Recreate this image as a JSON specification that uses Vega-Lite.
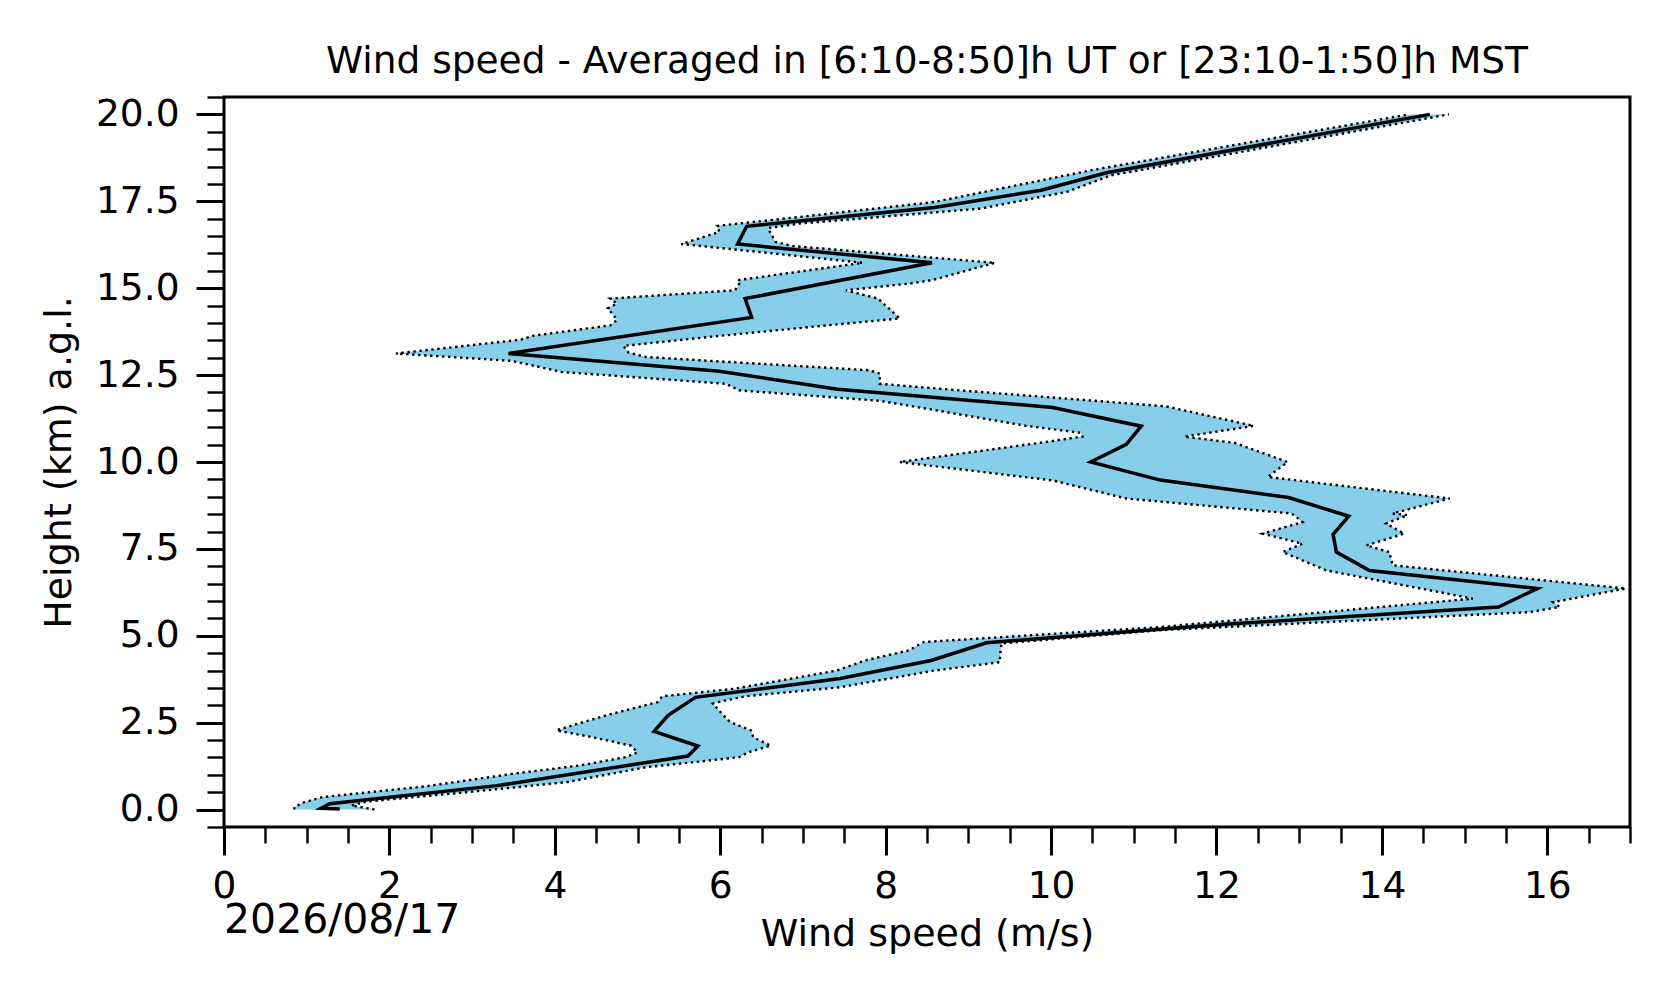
{
  "$schema": "https://vega.github.io/schema/vega-lite/v6.json",
  "width": 1406,
  "height": 730,
  "autosize": {"type": "none"},
  "padding": {"left": 224, "top": 97, "right": 46, "bottom": 176},
  "background": "white",
  "config": {
    "font": "DejaVu Sans",
    "view": {"stroke": "black", "strokeWidth": 3},
    "axis": {
      "domain": false,
      "grid": false,
      "tickColor": "black",
      "labelColor": "black",
      "titleColor": "black",
      "labelFont": "DejaVu Sans",
      "titleFont": "DejaVu Sans",
      "labelFontSize": 37.5,
      "titleFontSize": 38,
      "titleFontWeight": "normal",
      "labelFlush": false,
      "labelOverlap": false,
      "labelBound": false
    }
  },
  "title": {
    "text": "Wind speed - Averaged in [6:10-8:50]h UT or [23:10-1:50]h MST",
    "fontSize": 37.5,
    "fontWeight": "normal",
    "font": "DejaVu Sans",
    "color": "black",
    "anchor": "middle",
    "frame": "group",
    "baseline": "alphabetic",
    "offset": -32
  },
  "datasets": {
    "band": [
      {"h": 0.00, "lo": 0.85, "hi": 1.82},
      {"h": 0.07, "lo": 0.85, "hi": 1.66},
      {"h": 0.12, "lo": 0.89, "hi": 1.54},
      {"h": 0.20, "lo": 0.95, "hi": 1.67},
      {"h": 0.23, "lo": 1.00, "hi": 1.72},
      {"h": 0.36, "lo": 1.19, "hi": 2.30},
      {"h": 0.50, "lo": 1.75, "hi": 2.93},
      {"h": 0.67, "lo": 2.44, "hi": 3.64},
      {"h": 0.79, "lo": 2.79, "hi": 4.14},
      {"h": 1.03, "lo": 3.49, "hi": 4.68},
      {"h": 1.22, "lo": 4.13, "hi": 5.10},
      {"h": 1.27, "lo": 4.30, "hi": 5.30},
      {"h": 1.36, "lo": 4.51, "hi": 5.67},
      {"h": 1.51, "lo": 4.86, "hi": 6.23},
      {"h": 1.65, "lo": 5.00, "hi": 6.34},
      {"h": 1.84, "lo": 4.92, "hi": 6.61},
      {"h": 2.08, "lo": 4.46, "hi": 6.40},
      {"h": 2.28, "lo": 4.02, "hi": 6.37},
      {"h": 2.52, "lo": 4.35, "hi": 6.12},
      {"h": 2.71, "lo": 4.62, "hi": 6.04},
      {"h": 3.05, "lo": 5.17, "hi": 5.91},
      {"h": 3.09, "lo": 5.24, "hi": 5.97},
      {"h": 3.26, "lo": 5.30, "hi": 6.30},
      {"h": 3.48, "lo": 6.18, "hi": 7.27},
      {"h": 3.52, "lo": 6.27, "hi": 7.45},
      {"h": 4.00, "lo": 7.41, "hi": 8.59},
      {"h": 4.24, "lo": 7.69, "hi": 9.38},
      {"h": 4.29, "lo": 7.75, "hi": 9.38},
      {"h": 4.58, "lo": 8.28, "hi": 9.39},
      {"h": 4.78, "lo": 8.43, "hi": 9.40},
      {"h": 4.82, "lo": 8.46, "hi": 9.60},
      {"h": 5.16, "lo": 10.71, "hi": 11.31},
      {"h": 5.25, "lo": 11.31, "hi": 12.08},
      {"h": 5.68, "lo": 13.30, "hi": 15.78},
      {"h": 5.83, "lo": 13.99, "hi": 16.15},
      {"h": 5.97, "lo": 14.64, "hi": 16.07},
      {"h": 6.07, "lo": 15.10, "hi": 16.30},
      {"h": 6.36, "lo": 14.47, "hi": 16.95},
      {"h": 6.88, "lo": 13.33, "hi": 14.76},
      {"h": 7.03, "lo": 13.18, "hi": 14.13},
      {"h": 7.41, "lo": 12.80, "hi": 14.09},
      {"h": 7.60, "lo": 12.99, "hi": 13.81},
      {"h": 7.65, "lo": 13.04, "hi": 13.88},
      {"h": 7.94, "lo": 12.56, "hi": 14.27},
      {"h": 8.23, "lo": 12.98, "hi": 14.05},
      {"h": 8.27, "lo": 13.04, "hi": 14.09},
      {"h": 8.47, "lo": 12.94, "hi": 14.31},
      {"h": 8.52, "lo": 12.90, "hi": 14.13},
      {"h": 8.95, "lo": 10.91, "hi": 14.82},
      {"h": 9.47, "lo": 10.02, "hi": 12.97},
      {"h": 9.57, "lo": 9.67, "hi": 12.62},
      {"h": 10.00, "lo": 8.17, "hi": 12.86},
      {"h": 10.55, "lo": 9.86, "hi": 12.22},
      {"h": 10.73, "lo": 10.38, "hi": 11.61},
      {"h": 10.84, "lo": 10.36, "hi": 11.91},
      {"h": 11.04, "lo": 9.70, "hi": 12.45},
      {"h": 11.60, "lo": 8.33, "hi": 11.39},
      {"h": 11.76, "lo": 7.93, "hi": 10.53},
      {"h": 12.06, "lo": 6.23, "hi": 8.90},
      {"h": 12.25, "lo": 6.07, "hi": 7.93},
      {"h": 12.54, "lo": 4.38, "hi": 7.93},
      {"h": 12.59, "lo": 4.08, "hi": 7.87},
      {"h": 12.64, "lo": 3.99, "hi": 7.80},
      {"h": 12.91, "lo": 3.48, "hi": 5.88},
      {"h": 13.02, "lo": 2.75, "hi": 5.10},
      {"h": 13.12, "lo": 2.08, "hi": 4.94},
      {"h": 13.15, "lo": 2.19, "hi": 4.89},
      {"h": 13.34, "lo": 2.91, "hi": 4.83},
      {"h": 13.52, "lo": 3.59, "hi": 5.55},
      {"h": 13.63, "lo": 3.73, "hi": 6.00},
      {"h": 13.93, "lo": 4.67, "hi": 7.29},
      {"h": 14.08, "lo": 4.75, "hi": 7.95},
      {"h": 14.13, "lo": 4.74, "hi": 8.17},
      {"h": 14.42, "lo": 4.64, "hi": 8.04},
      {"h": 14.56, "lo": 4.75, "hi": 7.97},
      {"h": 14.70, "lo": 4.67, "hi": 7.91},
      {"h": 14.94, "lo": 6.18, "hi": 7.52},
      {"h": 15.13, "lo": 6.23, "hi": 8.28},
      {"h": 15.23, "lo": 6.21, "hi": 8.56},
      {"h": 15.73, "lo": 7.72, "hi": 9.32},
      {"h": 16.14, "lo": 6.07, "hi": 7.24},
      {"h": 16.21, "lo": 5.78, "hi": 6.88},
      {"h": 16.27, "lo": 5.53, "hi": 6.78},
      {"h": 16.33, "lo": 5.61, "hi": 6.67},
      {"h": 16.62, "lo": 5.99, "hi": 6.60},
      {"h": 16.73, "lo": 5.97, "hi": 6.58},
      {"h": 16.79, "lo": 5.96, "hi": 6.76},
      {"h": 16.86, "lo": 6.23, "hi": 6.96},
      {"h": 17.05, "lo": 6.96, "hi": 7.93},
      {"h": 17.29, "lo": 7.87, "hi": 9.15},
      {"h": 17.48, "lo": 8.59, "hi": 9.56},
      {"h": 17.77, "lo": 9.19, "hi": 10.19},
      {"h": 18.25, "lo": 10.19, "hi": 10.73},
      {"h": 18.40, "lo": 10.50, "hi": 11.08},
      {"h": 20.00, "lo": 14.33, "hi": 14.81}
    ],
    "mean": [
      {"h": 0.02, "ws": 1.40},
      {"h": 0.04, "ws": 1.175},
      {"h": 0.17, "ws": 1.28},
      {"h": 0.69, "ws": 3.30},
      {"h": 1.54, "ws": 5.61},
      {"h": 1.83, "ws": 5.73},
      {"h": 2.25, "ws": 5.20},
      {"h": 2.71, "ws": 5.37},
      {"h": 3.23, "ws": 5.70},
      {"h": 3.77, "ws": 7.45},
      {"h": 4.29, "ws": 8.55},
      {"h": 4.80, "ws": 9.22},
      {"h": 5.33, "ws": 12.1},
      {"h": 5.83, "ws": 15.41},
      {"h": 6.36, "ws": 15.88},
      {"h": 6.88, "ws": 13.85},
      {"h": 7.41, "ws": 13.45},
      {"h": 7.92, "ws": 13.41},
      {"h": 8.44, "ws": 13.60},
      {"h": 8.98, "ws": 12.87},
      {"h": 9.48, "ws": 11.32},
      {"h": 10.00, "ws": 10.48},
      {"h": 10.51, "ws": 10.91},
      {"h": 11.03, "ws": 11.09},
      {"h": 11.57, "ws": 10.02},
      {"h": 12.09, "ws": 7.42},
      {"h": 12.61, "ws": 5.99},
      {"h": 13.12, "ws": 3.44},
      {"h": 14.16, "ws": 6.38},
      {"h": 14.70, "ws": 6.30},
      {"h": 15.73, "ws": 8.56},
      {"h": 16.27, "ws": 6.21},
      {"h": 16.78, "ws": 6.32},
      {"h": 17.32, "ws": 8.59},
      {"h": 17.82, "ws": 9.88},
      {"h": 18.32, "ws": 10.67},
      {"h": 20.00, "ws": 14.58}
    ],
    "note": [
      {"x": 0, "y": -3.54, "label": "2026/08/17"}
    ]
  },
  "layer": [
    {
      "data": {"name": "band"},
      "mark": {"type": "area", "orient": "horizontal", "color": "#87CEEB", "opacity": 1},
      "encoding": {
        "y": {
          "field": "h",
          "type": "quantitative",
          "scale": {"domain": [-0.5, 20.5], "nice": false, "zero": false},
          "title": "Height (km) a.g.l.",
          "axis": {
            "values": [-0.5, 0, 0.5, 1, 1.5, 2, 2.5, 3, 3.5, 4, 4.5, 5, 5.5, 6, 6.5, 7, 7.5, 8, 8.5, 9, 9.5, 10, 10.5, 11, 11.5, 12, 12.5, 13, 13.5, 14, 14.5, 15, 15.5, 16, 16.5, 17, 17.5, 18, 18.5, 19, 19.5, 20, 20.5],
            "tickCount": 100,
            "labelExpr": "datum.value % 2.5 === 0 ? format(datum.value, '.1f') : ''",
            "tickSize": {"condition": {"test": "datum.value % 2.5 === 0", "value": 28}, "value": 17},
            "tickWidth": {"condition": {"test": "datum.value % 2.5 === 0", "value": 3}, "value": 2.4},
            "labelPadding": 17,
            "titlePadding": 17
          }
        },
        "x": {
          "field": "lo",
          "type": "quantitative",
          "scale": {"domain": [0, 17], "nice": false, "zero": false},
          "title": "Wind speed (m/s)",
          "axis": {
            "values": [0, 0.5, 1, 1.5, 2, 2.5, 3, 3.5, 4, 4.5, 5, 5.5, 6, 6.5, 7, 7.5, 8, 8.5, 9, 9.5, 10, 10.5, 11, 11.5, 12, 12.5, 13, 13.5, 14, 14.5, 15, 15.5, 16, 16.5, 17],
            "tickCount": 100,
            "labelExpr": "datum.value % 2 === 0 ? format(datum.value, 'd') : ''",
            "tickSize": {"condition": {"test": "datum.value % 2 === 0", "value": 28}, "value": 16},
            "tickWidth": {"condition": {"test": "datum.value % 2 === 0", "value": 3}, "value": 2.4},
            "labelPadding": 12,
            "titlePadding": 11
          }
        },
        "x2": {"field": "hi"}
      }
    },
    {
      "data": {"name": "band"},
      "mark": {"type": "line", "color": "black", "strokeWidth": 2.4, "strokeDash": [2.4, 3.6]},
      "encoding": {
        "x": {"field": "lo", "type": "quantitative"},
        "y": {"field": "h", "type": "quantitative"},
        "order": {"field": "h", "type": "quantitative"}
      }
    },
    {
      "data": {"name": "band"},
      "mark": {"type": "line", "color": "black", "strokeWidth": 2.4, "strokeDash": [2.4, 3.6]},
      "encoding": {
        "x": {"field": "hi", "type": "quantitative"},
        "y": {"field": "h", "type": "quantitative"},
        "order": {"field": "h", "type": "quantitative"}
      }
    },
    {
      "data": {"name": "mean"},
      "mark": {"type": "line", "color": "black", "strokeWidth": 3.5},
      "encoding": {
        "x": {"field": "ws", "type": "quantitative"},
        "y": {"field": "h", "type": "quantitative"},
        "order": {"field": "h", "type": "quantitative"}
      }
    },
    {
      "data": {"name": "note"},
      "mark": {"type": "text", "align": "left", "baseline": "alphabetic", "fontSize": 41, "font": "DejaVu Sans", "color": "black"},
      "encoding": {
        "x": {"field": "x", "type": "quantitative"},
        "y": {"field": "y", "type": "quantitative"},
        "text": {"field": "label"}
      }
    }
  ]
}
